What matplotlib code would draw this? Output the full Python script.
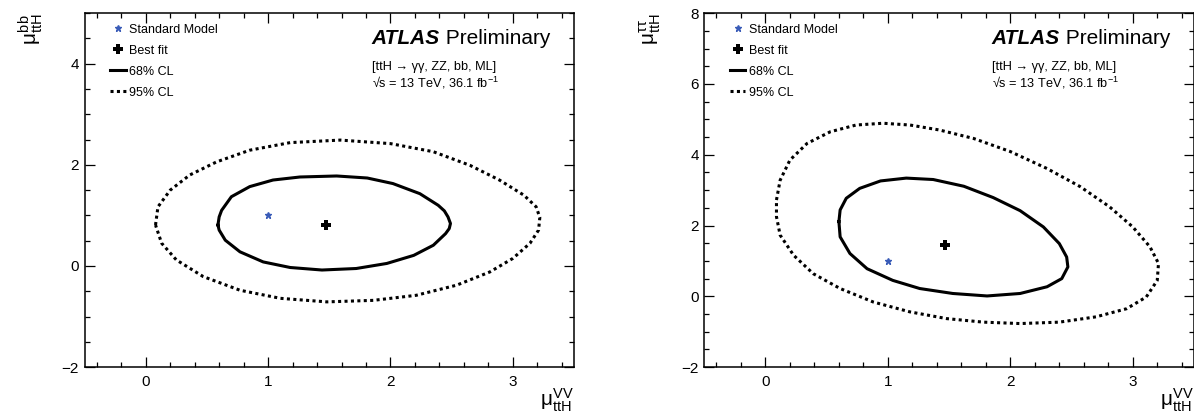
import numpy as np
import matplotlib.pyplot as plt
from matplotlib.ticker import MultipleLocator

plt.rcParams['font.family'] = ['Liberation Sans', 'DejaVu Sans']
plt.rcParams['mathtext.fontset'] = 'custom'
plt.rcParams['mathtext.rm'] = 'Liberation Sans'
plt.rcParams['mathtext.it'] = 'Liberation Sans'
plt.rcParams['mathtext.bf'] = 'Liberation Sans:bold'

# Standard Model expectation
sm_x, sm_y = 1.0, 1.0

# --- left panel: mu_ttH^VV vs mu_ttH^bb
bb_best_x, bb_best_y = 1.47, 0.81
bb_68_x = [0.59, 0.60, 0.62, 0.70, 0.85, 1.04, 1.26, 1.56, 1.81, 2.02, 2.24, 2.39, 2.44, 2.47,
           2.49, 2.48, 2.45, 2.35, 2.19, 1.97, 1.72, 1.44, 1.18, 0.96, 0.77, 0.65, 0.60]
bb_68_y = [0.81, 0.97, 1.10, 1.37, 1.57, 1.70, 1.76, 1.78, 1.74, 1.63, 1.43, 1.20, 1.09, 0.97,
           0.84, 0.74, 0.64, 0.41, 0.21, 0.05, -0.05, -0.08, -0.03, 0.08, 0.28, 0.51, 0.71]
bb_95_x = [0.08, 0.10, 0.20, 0.36, 0.58, 0.85, 1.18, 1.59, 2.00, 2.35, 2.65, 2.89, 3.09, 3.19,
           3.22, 3.21, 3.14, 3.00, 2.81, 2.54, 2.21, 1.86, 1.48, 1.10, 0.77, 0.47, 0.25, 0.13]
bb_95_y = [0.81, 1.17, 1.50, 1.80, 2.06, 2.29, 2.44, 2.49, 2.42, 2.26, 1.99, 1.70, 1.40, 1.17,
           0.96, 0.71, 0.45, 0.15, -0.12, -0.38, -0.58, -0.68, -0.71, -0.64, -0.48, -0.21, 0.12, 0.45]

# --- right panel: mu_ttH^VV vs mu_ttH^tautau
tt_best_x, tt_best_y = 1.47, 1.44
tt_68_x = [0.60, 0.61, 0.66, 0.77, 0.94, 1.15, 1.37, 1.62, 1.86, 2.08, 2.27, 2.40,
           2.46, 2.47, 2.42, 2.30, 2.08, 1.81, 1.53, 1.26, 1.04, 0.83, 0.69, 0.61]
tt_68_y = [2.11, 2.44, 2.77, 3.05, 3.26, 3.34, 3.30, 3.11, 2.79, 2.42, 1.96, 1.49,
           1.11, 0.83, 0.50, 0.27, 0.08, 0.01, 0.08, 0.22, 0.45, 0.78, 1.21, 1.68]
tt_95_x = [0.09, 0.12, 0.20, 0.34, 0.53, 0.74, 0.96, 1.18, 1.42, 1.70, 2.00, 2.30, 2.57, 2.81, 3.00, 3.14,
           3.21, 3.20, 3.11, 2.95, 2.70, 2.40, 2.08, 1.78, 1.48, 1.18, 0.88, 0.61, 0.39, 0.23, 0.12, 0.09]
tt_95_y = [2.72, 3.28, 3.85, 4.32, 4.65, 4.84, 4.89, 4.84, 4.70, 4.46, 4.09, 3.61, 3.10, 2.53, 1.96, 1.40,
           0.93, 0.45, -0.02, -0.35, -0.58, -0.73, -0.77, -0.73, -0.63, -0.44, -0.16, 0.22, 0.64, 1.16, 1.73, 2.25]

sm_color = '#3a5cb8'


def closed(v):
    return np.append(v, v[0])


def draw_panel(ax, c68x, c68y, c95x, c95y, bx, by, ylim, ylabel, ylab_x):
    h_sm, = ax.plot([sm_x], [sm_y], ls='none', marker='*', ms=5, color=sm_color,
                    label='Standard Model')
    h_bf, = ax.plot([bx], [by], ls='none', marker='P', ms=7, mew=0, color='black',
                    label='Best fit')
    h68, = ax.plot(closed(c68x), closed(c68y), '-', color='black', lw=2.2,
                   solid_joinstyle='round', label='68% CL')
    h95, = ax.plot(closed(c95x), closed(c95y), color='black', lw=2.2,
                   dashes=(1.0, 1.1), label='95% CL')

    ax.set_xlim(-0.5, 3.5)
    ax.set_ylim(*ylim)
    ax.xaxis.set_major_locator(MultipleLocator(1))
    ax.xaxis.set_minor_locator(MultipleLocator(0.2))
    ax.yaxis.set_major_locator(MultipleLocator(2))
    ax.yaxis.set_minor_locator(MultipleLocator(0.5))
    ax.tick_params(which='both', direction='in', top=True, right=True, width=0.9,
                   labelsize=11)
    ax.tick_params(which='major', length=7)
    ax.tick_params(which='minor', length=3.5)
    ax.tick_params(axis='x', pad=6)
    ax.tick_params(axis='y', pad=4)
    for s in ax.spines.values():
        s.set_linewidth(1.1)

    ax.set_xlabel(r'$\mu^{VV}_{ttH}$', fontsize=15, loc='right')
    ax.xaxis.set_label_coords(1.0, -0.055)
    ax.set_ylabel(ylabel, fontsize=15, loc='top')
    ax.yaxis.set_label_coords(ylab_x, 1.0)

    ax.legend(handles=[h_sm, h_bf, h68, h95], loc='upper left',
              bbox_to_anchor=(0.052, 0.970), frameon=False, fontsize=9,
              handlelength=1.25, handletextpad=0.3, labelspacing=0.72,
              borderpad=0, borderaxespad=0)

    atlas = ax.text(0.587, 0.912, 'ATLAS', transform=ax.transAxes, fontsize=15,
                    fontweight='bold', fontstyle='italic', va='baseline')
    ax.annotate(' Preliminary', xy=(1, 0), xycoords=atlas, fontsize=15, va='bottom')
    ax.text(0.587, 0.847, '[ttH \u2192 \u03b3\u03b3, ZZ, bb, ML]', transform=ax.transAxes,
            fontsize=9.2, va='center')
    ax.text(0.587, 0.802, '\u221as = 13 TeV, 36.1 fb$^{-1}$', transform=ax.transAxes,
            fontsize=9.2, va='center')


fig = plt.figure(figsize=(11.94, 4.12), dpi=100)
ax1 = fig.add_axes([0.0708, 0.109, 0.41, 0.859])
ax2 = fig.add_axes([0.5898, 0.109, 0.4102, 0.859])

draw_panel(ax1, bb_68_x, bb_68_y, bb_95_x, bb_95_y, bb_best_x, bb_best_y,
           (-2, 5), r'$\mu^{bb}_{ttH}$', -0.08)
draw_panel(ax2, tt_68_x, tt_68_y, tt_95_x, tt_95_y, tt_best_x, tt_best_y,
           (-2, 8), r'$\mu^{\tau\tau}_{ttH}$', -0.085)

fig.savefig('out.png', dpi=100)
